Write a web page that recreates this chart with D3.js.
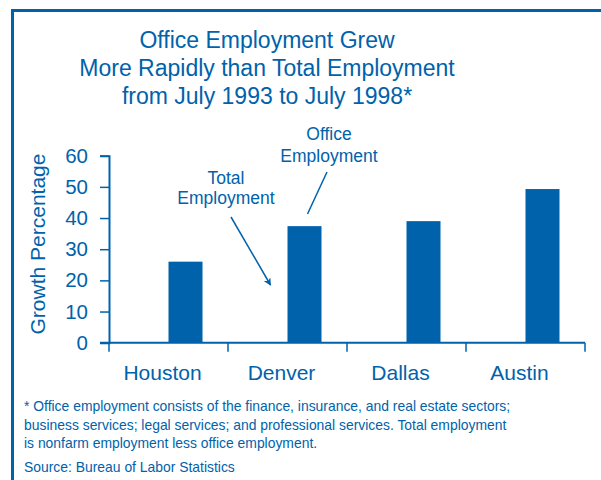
<!DOCTYPE html>
<html>
<head>
<meta charset="utf-8">
<script src="https://cdn.jsdelivr.net/npm/d3@7"></script>
<style>
  body { margin: 0; background: #fff; }
  svg { display: block; font-family: "Liberation Sans", Arial, Helvetica, sans-serif; }
</style>
</head>
<body>
<div id="graph"></div>
<script>
var width = 601;
var height = 480;
var blue = "#0062ab";

// data
var cities = ["Houston", "Denver", "Dallas", "Austin"];
var series = ["Total Employment", "Office Employment"];
var officeGrowth = [26.0, 37.4, 39.0, 49.3];
var yTicks = [0, 10, 20, 30, 40, 50, 60];
var titleLines = ["Office Employment Grew", "More Rapidly than Total Employment", "from July 1993 to July 1998*"];
var noteLines = [
    "* Office employment consists of the finance, insurance, and real estate sectors;",
    "business services; legal services; and professional services. Total employment",
    "is nonfarm employment less office employment."
];
var source = "Source: Bureau of Labor Statistics";

var svg = d3.select("#graph").
append("svg").
attr("width", width).
attr("height", height);

// frame
svg.append("rect").
attr("x", 12.5).
attr("y", 10.5).
attr("width", 620).
attr("height", 500).
attr("fill", "none").
attr("stroke", blue).
attr("stroke-width", 3);

svg.append("g").
selectAll("text").
data(titleLines).
enter().
append("text").
attr("x", 267).
attr("y", function (d, i) {return 48 + i * 28;}).
attr("text-anchor", "middle").
attr("fill", blue).
attr("font-size", "23px").
text(function (d) {return d;});

var x = d3.scaleBand().
domain(cities).
range([109, 585]);

var sub = d3.scaleBand().
domain(series).
range([0, x.bandwidth()]).
paddingOuter(0.75);

var y = d3.scaleLinear().
domain([0, 60]).
range([342.7, 155.7]);

// bars (only the office series is visible in the picture)
svg.append("g").
selectAll("rect").
data(officeGrowth).
enter().
append("rect").
attr("x", function (d, i) {return x(cities[i]) + sub("Office Employment");}).
attr("y", function (d) {return y(d);}).
attr("width", sub.bandwidth()).
attr("height", function (d) {return y(0) - y(d);}).
attr("fill", blue);

// y axis
var yAxis = svg.append("g").
attr("transform", "translate(109,0)").
call(d3.axisLeft(y).tickValues(yTicks).tickSize(9).tickPadding(12));

// x axis
var xAxis = svg.append("g").
attr("transform", "translate(0," + y(0) + ")");

xAxis.append("line").
attr("x1", 100).
attr("x2", 585).
attr("stroke", blue).
attr("stroke-width", 2);

xAxis.selectAll(".bound").
data(cities.map(function (c) {return x(c);}).concat([x.range()[1]])).
enter().
append("line").
attr("class", "bound").
attr("x1", function (d) {return d;}).
attr("x2", function (d) {return d;}).
attr("y1", 0).
attr("y2", 9).
attr("stroke", blue).
attr("stroke-width", 1.5);

xAxis.selectAll(".lab").
data(cities).
enter().
append("text").
attr("class", "lab").
attr("x", function (d) {return x(d) + x.bandwidth() / 2 - 6;}).
attr("y", 37).
attr("text-anchor", "middle").
attr("fill", blue).
attr("font-size", "21px").
text(function (d) {return d;});

yAxis.select(".domain").attr("stroke", blue).attr("stroke-width", 2);
yAxis.selectAll(".tick line").attr("stroke", blue).attr("stroke-width", 1.5);
yAxis.selectAll(".tick text").
attr("fill", blue).
attr("font-size", "20.5px").
attr("font-family", "Liberation Sans, Arial, sans-serif");

svg.append("text").
attr("transform", "translate(45,244) rotate(-90)").
attr("text-anchor", "middle").
attr("fill", blue).
attr("font-size", "21px").
text("Growth Percentage");

// annotations
var defs = svg.append("defs");
defs.append("marker").
attr("id", "arrow").
attr("viewBox", "0 0 10 10").
attr("refX", 9).
attr("refY", 5).
attr("markerWidth", 5).
attr("markerHeight", 5).
attr("orient", "auto").
append("path").
attr("d", "M0,0 L10,5 L0,10 L3,5 Z").
attr("fill", blue);

svg.append("g").
selectAll("text").
data(["Total", "Employment"]).
enter().
append("text").
attr("x", 226).
attr("y", function (d, i) {return 184 + i * 20;}).
attr("text-anchor", "middle").
attr("fill", blue).
attr("font-size", "17.5px").
text(function (d) {return d;});

svg.append("line").
attr("x1", 231).
attr("y1", 217).
attr("x2", 270.5).
attr("y2", 285).
attr("stroke", blue).
attr("stroke-width", 1.5).
attr("marker-end", "url(#arrow)");

svg.append("g").
selectAll("text").
data(["Office", "Employment"]).
enter().
append("text").
attr("x", 329).
attr("y", function (d, i) {return 140 + i * 22;}).
attr("text-anchor", "middle").
attr("fill", blue).
attr("font-size", "17.5px").
text(function (d) {return d;});

svg.append("line").
attr("x1", 327).
attr("y1", 172).
attr("x2", 307.5).
attr("y2", 214).
attr("stroke", blue).
attr("stroke-width", 1.5);

// footnote
svg.append("g").
selectAll("text").
data(noteLines).
enter().
append("text").
attr("x", 24).
attr("y", function (d, i) {return 411 + i * 18.5;}).
attr("fill", blue).
attr("font-size", "13.9px").
text(function (d) {return d;});

svg.append("text").
attr("x", 24).
attr("y", 472).
attr("fill", blue).
attr("font-size", "13.9px").
text(source);
</script>
</body>
</html>
